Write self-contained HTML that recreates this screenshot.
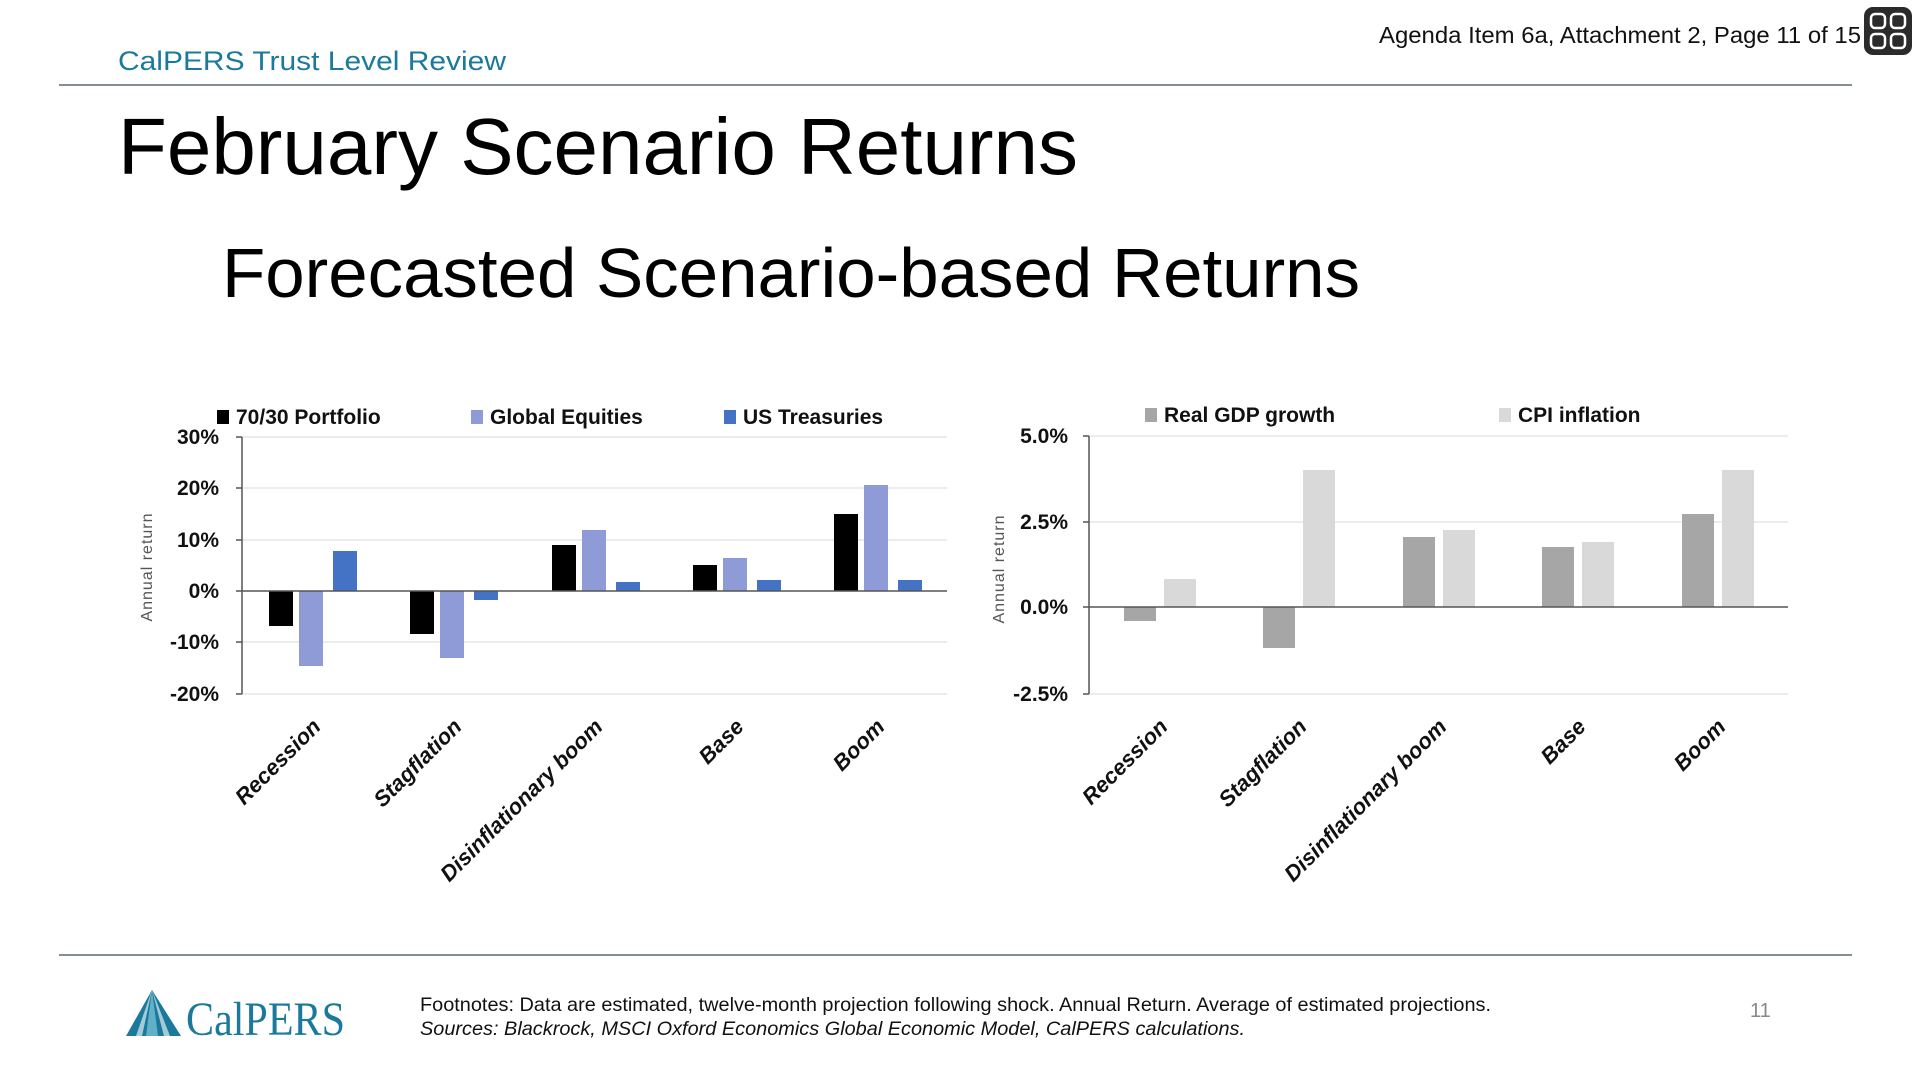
<!DOCTYPE html>
<html><head><meta charset="utf-8"><style>html,body{margin:0;padding:0;background:#fff;overflow:hidden}svg{display:block}</style></head>
<body>
<svg width="1920" height="1080" viewBox="0 0 1920 1080" xmlns="http://www.w3.org/2000/svg" font-family="Liberation Sans, Arial, sans-serif">
<rect width="1920" height="1080" fill="#fff"/>
<!-- header -->
<text x="118" y="70" font-size="27" fill="#1b7a9c" textLength="388" lengthAdjust="spacingAndGlyphs">CalPERS Trust Level Review</text>
<text x="1379" y="43" font-size="23" fill="#111" textLength="482" lengthAdjust="spacingAndGlyphs">Agenda Item 6a, Attachment 2, Page 11 of 15</text>
<rect x="1864" y="7" width="48" height="48" rx="9" fill="#2b2b2b"/>
<g fill="none" stroke="#fff" stroke-width="2.5">
<rect x="1871" y="14" width="14" height="14" rx="4"/><rect x="1891" y="14" width="14" height="14" rx="4"/>
<rect x="1871" y="34" width="14" height="14" rx="4"/><rect x="1891" y="34" width="14" height="14" rx="4"/></g>
<line x1="59" y1="85" x2="1852" y2="85" stroke="#5a6a70" stroke-width="1.5"/>
<text x="118" y="174" font-size="80" fill="#000" textLength="960" lengthAdjust="spacingAndGlyphs">February Scenario Returns</text>
<text x="222" y="297" font-size="70" fill="#000" textLength="1138" lengthAdjust="spacingAndGlyphs">Forecasted Scenario-based Returns</text>

<!-- LEFT CHART: zero 591, 5.14 px per % -->
<g stroke="#e6e6e6" stroke-width="1.5">
<line x1="242" y1="437" x2="947" y2="437"/><line x1="242" y1="488" x2="947" y2="488"/><line x1="242" y1="540" x2="947" y2="540"/>
<line x1="242" y1="642" x2="947" y2="642"/><line x1="242" y1="694" x2="947" y2="694"/></g>
<g font-size="21" font-weight="bold" fill="#111" text-anchor="end">
<text x="219" y="444">30%</text><text x="219" y="495">20%</text><text x="219" y="547">10%</text><text x="219" y="598">0%</text><text x="219" y="649">-10%</text><text x="219" y="701">-20%</text></g>
<text transform="translate(152,567) rotate(-90)" font-size="16" fill="#555" text-anchor="middle" letter-spacing="1">Annual return</text>
<g>
<rect x="269" y="591" width="24" height="35" fill="#000"/><rect x="299" y="591" width="24" height="75" fill="#8e9bd6"/><rect x="333" y="551" width="24" height="40" fill="#4472c4"/>
<rect x="410" y="591" width="24" height="43" fill="#000"/><rect x="440" y="591" width="24" height="67" fill="#8e9bd6"/><rect x="474" y="591" width="24" height="9" fill="#4472c4"/>
<rect x="552" y="545" width="24" height="46" fill="#000"/><rect x="582" y="530" width="24" height="61" fill="#8e9bd6"/><rect x="616" y="582" width="24" height="9" fill="#4472c4"/>
<rect x="693" y="565" width="24" height="26" fill="#000"/><rect x="723" y="558" width="24" height="33" fill="#8e9bd6"/><rect x="757" y="580" width="24" height="11" fill="#4472c4"/>
<rect x="834" y="514" width="24" height="77" fill="#000"/><rect x="864" y="485" width="24" height="106" fill="#8e9bd6"/><rect x="898" y="580" width="24" height="11" fill="#4472c4"/>
</g>
<line x1="242" y1="437" x2="242" y2="694" stroke="#555" stroke-width="1.5"/>
<line x1="236" y1="591" x2="947" y2="591" stroke="#555" stroke-width="1.5"/>
<g stroke="#555" stroke-width="1.5"><line x1="236" y1="437" x2="242" y2="437"/><line x1="236" y1="488" x2="242" y2="488"/><line x1="236" y1="540" x2="242" y2="540"/><line x1="236" y1="642" x2="242" y2="642"/><line x1="236" y1="694" x2="242" y2="694"/></g>
<g font-size="21" font-weight="bold" fill="#111">
<rect x="217" y="410" width="12" height="14" fill="#000"/><text x="236" y="424">70/30 Portfolio</text>
<rect x="471" y="410" width="12" height="14" fill="#8e9bd6"/><text x="490" y="424">Global Equities</text>
<rect x="724" y="410" width="12" height="14" fill="#4472c4"/><text x="743" y="424">US Treasuries</text></g>
<g font-size="22" font-weight="bold" font-style="italic" fill="#111" text-anchor="end">
<text transform="translate(322,728) rotate(-45)">Recession</text>
<text transform="translate(463,728) rotate(-45)">Stagflation</text>
<text transform="translate(604,728) rotate(-45)">Disinflationary boom</text>
<text transform="translate(745,728) rotate(-45)">Base</text>
<text transform="translate(886,728) rotate(-45)">Boom</text></g>

<!-- RIGHT CHART: zero 607, 34.4 px per % -->
<g stroke="#e6e6e6" stroke-width="1.5">
<line x1="1089" y1="436" x2="1788" y2="436"/><line x1="1089" y1="522" x2="1788" y2="522"/><line x1="1089" y1="694" x2="1788" y2="694"/></g>
<g font-size="21" font-weight="bold" fill="#111" text-anchor="end">
<text x="1068" y="443">5.0%</text><text x="1068" y="529">2.5%</text><text x="1068" y="614">0.0%</text><text x="1068" y="701">-2.5%</text></g>
<text transform="translate(1004,569) rotate(-90)" font-size="16" fill="#555" text-anchor="middle" letter-spacing="1">Annual return</text>
<g>
<rect x="1124" y="607" width="32" height="14" fill="#a6a6a6"/><rect x="1164" y="579" width="32" height="28" fill="#d9d9d9"/>
<rect x="1263" y="607" width="32" height="41" fill="#a6a6a6"/><rect x="1303" y="470" width="32" height="137" fill="#d9d9d9"/>
<rect x="1403" y="537" width="32" height="70" fill="#a6a6a6"/><rect x="1443" y="530" width="32" height="77" fill="#d9d9d9"/>
<rect x="1542" y="547" width="32" height="60" fill="#a6a6a6"/><rect x="1582" y="542" width="32" height="65" fill="#d9d9d9"/>
<rect x="1682" y="514" width="32" height="93" fill="#a6a6a6"/><rect x="1722" y="470" width="32" height="137" fill="#d9d9d9"/>
</g>
<line x1="1089" y1="436" x2="1089" y2="694" stroke="#555" stroke-width="1.5"/>
<line x1="1083" y1="607" x2="1788" y2="607" stroke="#555" stroke-width="1.5"/>
<g stroke="#555" stroke-width="1.5"><line x1="1083" y1="436" x2="1089" y2="436"/><line x1="1083" y1="522" x2="1089" y2="522"/><line x1="1083" y1="694" x2="1089" y2="694"/></g>
<g font-size="21" font-weight="bold" fill="#111">
<rect x="1145" y="408" width="12" height="14" fill="#a6a6a6"/><text x="1164" y="422">Real GDP growth</text>
<rect x="1499" y="408" width="12" height="14" fill="#d9d9d9"/><text x="1518" y="422">CPI inflation</text></g>
<g font-size="22" font-weight="bold" font-style="italic" fill="#111" text-anchor="end">
<text transform="translate(1169,728) rotate(-45)">Recession</text>
<text transform="translate(1308,728) rotate(-45)">Stagflation</text>
<text transform="translate(1448,728) rotate(-45)">Disinflationary boom</text>
<text transform="translate(1587,728) rotate(-45)">Base</text>
<text transform="translate(1727,728) rotate(-45)">Boom</text></g>

<!-- footer -->
<line x1="59" y1="955" x2="1852" y2="955" stroke="#5a6a70" stroke-width="1.5"/>
<g>
<polygon points="152,990 126,1036 181,1036" fill="#1b7a9c"/>
<polygon points="152,990 146,1036 158,1036" fill="#5fb0c8"/>
<polygon points="152,990 136,1036 142,1036" fill="#ffffff" opacity="0.6"/>
<polygon points="152,990 164,1036 170,1036" fill="#ffffff" opacity="0.6"/>
</g>
<text x="186" y="1035" font-family="Liberation Serif, serif" font-size="48" fill="#1b7a9c" textLength="159" lengthAdjust="spacingAndGlyphs">CalPERS</text>
<text x="420" y="1011" font-size="19.5" fill="#111" textLength="1071" lengthAdjust="spacingAndGlyphs">Footnotes: Data are estimated, twelve-month projection following shock. Annual Return. Average of estimated projections.</text>
<text x="420" y="1035" font-size="19.5" font-style="italic" fill="#111" textLength="825" lengthAdjust="spacingAndGlyphs">Sources: Blackrock, MSCI Oxford Economics Global Economic Model, CalPERS calculations.</text>
<text x="1750" y="1017" font-size="20" fill="#888">11</text>
</svg>
</body></html>
